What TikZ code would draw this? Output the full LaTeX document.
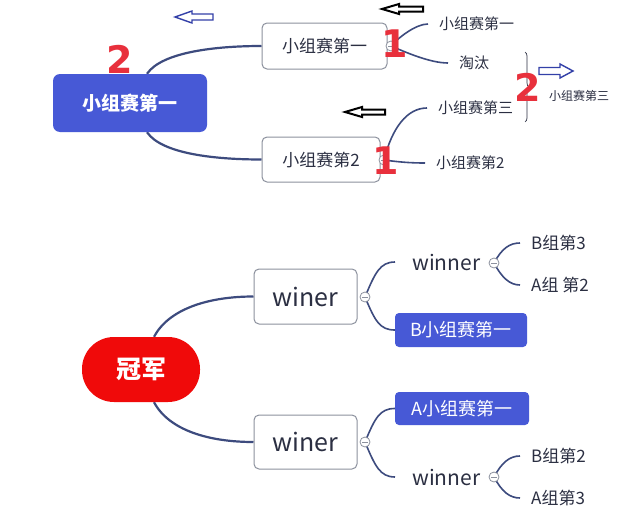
\documentclass[tikz,border=0pt]{standalone}
\usepackage{fontspec}
\setmainfont{Noto Sans CJK SC}
\newfontfamily\numfont{DejaVu Sans}
\usetikzlibrary{decorations.pathreplacing,backgrounds}
\definecolor{linec}{HTML}{3D4B7E}
\definecolor{boxblue}{HTML}{4759D6}
\definecolor{pillred}{HTML}{F00A0A}
\definecolor{numred}{HTML}{E8303C}
\definecolor{txt}{HTML}{2B2F42}
\definecolor{bord}{HTML}{8C919E}
\definecolor{arrblue}{HTML}{3340A8}
\newcommand\fs[1]{\fontsize{#1}{#1}\selectfont}
\begin{document}
\begin{tikzpicture}[x=1pt,y=-1pt,
  wbox/.style={draw=bord,line width=1pt,rounded corners=5pt,fill=white,inner sep=0pt,text=txt},
  bbox/.style={fill=boxblue,rounded corners=4pt,inner sep=0pt,text=white},
  leaf/.style={anchor=west,inner xsep=11pt,inner ysep=1pt,text=txt},
  rootconn/.style={draw=linec,line width=2.2pt},
  conn/.style={draw=linec,line width=1.6pt},
  collapse/.style={circle,draw=bord,fill=white,line width=0.8pt,minimum size=10pt,inner sep=0pt,
    path picture={\draw[bord,line width=0.8pt] ([xshift=2pt]path picture bounding box.west) -- ([xshift=-2pt]path picture bounding box.east);}},
  num/.style={text=numred,inner sep=0pt,font=\numfont\bfseries\fs{38}},
  barrow/.style={draw=arrblue,line width=1.4pt,fill=white,line join=miter},
  karrow/.style={draw=black,line width=2pt,fill=white,line join=miter}
]
\begin{pgfonlayer}{background}
\fill[white] (0,0) rectangle (640,530);
\end{pgfonlayer}
\useasboundingbox (0,0) rectangle (640,530);

% ---------- top part ----------
\node[bbox,minimum width=154pt,minimum height=58pt,rounded corners=7pt,font=\bfseries\fs{19}] (root) at (130,103) {小组赛第一};
\node[wbox,minimum width=125pt,minimum height=46pt,font=\fs{17}] (b1) at (324.5,46) {小组赛第一};
\node[wbox,minimum width=118pt,minimum height=45pt,font=\fs{17}] (b2) at (321,159.5) {小组赛第2};
\node[collapse] (c1) at (391,46) {};
\node[collapse] (c2) at (384,160) {};
\node[leaf,font=\fs{15}] (t1) at (428,24) {小组赛第一};
\node[leaf,font=\fs{15}] (t2) at (448,63) {淘汰};
\node[leaf,font=\fs{15}] (t3) at (427,108) {小组赛第三};
\node[leaf,font=\fs{15}] (t4) at (425,163) {小组赛第2};
\node[text=txt,font=\fs{12}] (t5) at (579,96) {小组赛第三};

\node[num] (n2a) at (120,59) {2};
\node[num] (n1a) at (395,44) {1};
\node[num] (n1b) at (386,161) {1};

\draw[decorate,decoration={brace,amplitude=4pt},draw=txt,line width=0.7pt] (525,52) -- (525,122);
\node[num] (n2b) at (528,87) {2};

% hollow block arrows
\draw[barrow] (175,17) -- ++(17,-6) -- ++(0,3) -- ++(21,0) -- ++(0,6) -- ++(-21,0) -- ++(0,3) -- cycle;
\draw[karrow] (382,9) -- ++(17,-5) -- ++(0,2.5) -- ++(24,0) -- ++(0,5) -- ++(-24,0) -- ++(0,2.5) -- cycle;
\draw[karrow] (345,112) -- ++(17,-5) -- ++(0,2.5) -- ++(23,0) -- ++(0,5) -- ++(-23,0) -- ++(0,2.5) -- cycle;
\draw[barrow] (573,71) -- ++(-13,-7) -- ++(0,3.5) -- ++(-21,0) -- ++(0,7) -- ++(21,0) -- ++(0,3.5) -- cycle;

% ---------- bottom part ----------
\node[fill=pillred,text=white,minimum width=118pt,minimum height=65pt,rounded corners=32pt,inner sep=0pt,font=\bfseries\fs{25}] (champ) at (141,369.5) {冠军};
\node[wbox,minimum width=103pt,minimum height=55pt,font=\fs{25}] (w1) at (305.5,296.5) {winer};
\node[wbox,minimum width=103pt,minimum height=54pt,font=\fs{25}] (w2) at (305.5,442) {winer};
\node[collapse] (c3) at (365,297) {};
\node[collapse] (c4) at (365,442) {};
\node[leaf,inner xsep=17pt,font=\fs{21}] (wn1) at (395,262) {winner};
\node[leaf,inner xsep=17pt,font=\fs{21}] (wn2) at (395,477) {winner};
\node[bbox,minimum width=132pt,minimum height=34pt,font=\fs{18}] (bb) at (461,330) {B小组赛第一};
\node[bbox,minimum width=134pt,minimum height=33pt,font=\fs{18}] (ab) at (462,408.5) {A小组赛第一};
\node[collapse] (c5) at (494,263) {};
\node[collapse] (c6) at (494,477) {};
\node[leaf,font=\fs{17}] (l1) at (520,243) {B组第3};
\node[leaf,font=\fs{17}] (l2) at (520,285) {A组 第2};
\node[leaf,font=\fs{17}] (l3) at (520,456) {B组第2};
\node[leaf,font=\fs{17}] (l4) at (520,498) {A组第3};

% ---------- connectors ----------
\begin{pgfonlayer}{background}
\draw[rootconn] ([xshift=17pt]root.north) .. controls +(15,-22) and +(-45,0) .. (b1.west);
\draw[rootconn] ([xshift=17pt]root.south) .. controls +(15,22) and +(-45,0) .. (b2.west);
\draw[conn] (c1.center) .. controls +(8,-9) and +(-12,0) .. (t1.west);
\draw[conn] (c1.center) .. controls +(14,6) and +(-18,0) .. (t2.west);
\draw[conn] (c2.center) .. controls +(8,-32) and +(-20,0) .. (t3.west);
\draw[conn] (c2.center) .. controls +(15,2) and +(-15,0) .. (t4.west);

\draw[rootconn] ([xshift=13pt]champ.north) .. controls +(15,-28) and +(-45,0) .. (w1.west);
\draw[rootconn] ([xshift=13pt]champ.south) .. controls +(15,28) and +(-45,0) .. (w2.west);
\draw[conn] (c3.center) .. controls +(10,-24) and +(-15,0) .. (wn1.west);
\draw[conn] (c3.center) .. controls +(10,24) and +(-15,0) .. (bb.west);
\draw[conn] (c4.center) .. controls +(10,-24) and +(-15,0) .. (ab.west);
\draw[conn] (c4.center) .. controls +(10,24) and +(-15,0) .. (wn2.west);
\draw[conn] (c5.center) .. controls +(8,-15) and +(-10,0) .. (l1.west);
\draw[conn] (c5.center) .. controls +(8,15) and +(-10,0) .. (l2.west);
\draw[conn] (c6.center) .. controls +(8,-15) and +(-10,0) .. (l3.west);
\draw[conn] (c6.center) .. controls +(8,15) and +(-10,0) .. (l4.west);
\end{pgfonlayer}
\end{tikzpicture}
\end{document}
